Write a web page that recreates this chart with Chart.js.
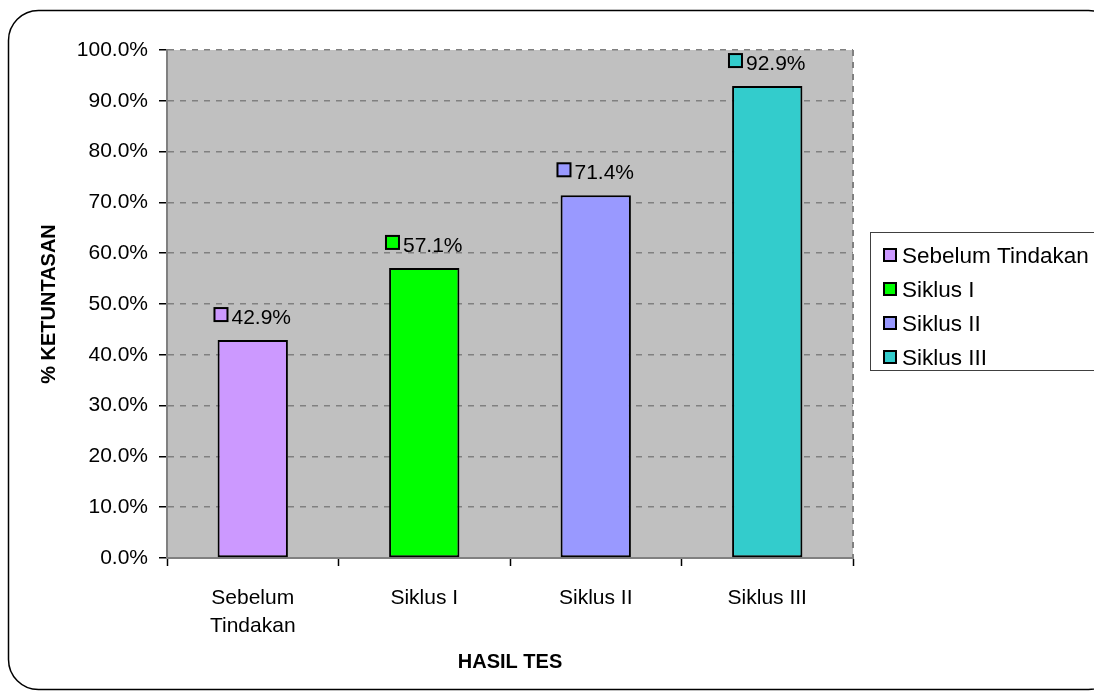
<!DOCTYPE html>
<html>
<head>
<meta charset="utf-8">
<script src="https://cdn.jsdelivr.net/npm/chart.js@4/dist/chart.umd.min.js"></script>
<style>
  html, body { margin: 0; padding: 0; background: #fff; }
  #wrap { width: 1094px; height: 694px; position: relative; }
</style>
</head>
<body>
<div id="wrap"><canvas id="chart" width="1094" height="694"></canvas></div>
<script>
// data
const categories = [['Sebelum', 'Tindakan'], 'Siklus I', 'Siklus II', 'Siklus III'];
const legendNames = ['Sebelum Tindakan', 'Siklus I', 'Siklus II', 'Siklus III'];
const ketuntasan = [42.9, 57.1, 71.4, 92.9];
const barColors = ['#CC99FF', '#00FF00', '#9999FF', '#33CCCC'];

const FONT = "'Liberation Sans', Arial, sans-serif";

// rounded frame, plot background and dashed border
const framePlugin = {
    id: 'frame',
    beforeDraw(chart) {
        const ctx = chart.ctx;
        const a = chart.chartArea;
        ctx.save();
        ctx.fillStyle = '#C0C0C0';
        ctx.fillRect(a.left, a.top, a.right - a.left, a.bottom - a.top);
        ctx.restore();
    },
    afterDraw(chart) {
        const ctx = chart.ctx;
        const a = chart.chartArea;
        ctx.save();
        // outer rounded frame
        ctx.strokeStyle = '#000';
        ctx.lineWidth = 1.5;
        ctx.beginPath();
        ctx.roundRect(8.5, 10.5, 1110, 679, 30);
        ctx.stroke();
        // right plot border dashed
        ctx.strokeStyle = '#808080';
        ctx.lineWidth = 2;
        ctx.setLineDash([6, 6]);
        ctx.beginPath();
        ctx.moveTo(a.right, a.top);
        ctx.lineTo(a.right, a.bottom);
        ctx.stroke();
        ctx.setLineDash([]);

        // data labels: colour square + value
        const meta = chart.getDatasetMeta(0);
        ctx.font = '21px ' + FONT;
        ctx.textBaseline = 'middle';
        ctx.textAlign = 'left';
        meta.data.forEach((bar, i) => {
            const txt = ketuntasan[i].toFixed(1) + '%';
            const tw = ctx.measureText(txt).width;
            const sq = 13, gap = 4;
            const total = sq + gap + tw;
            const x0 = bar.x - total / 2;
            const cy = bar.y - 22;
            ctx.fillStyle = barColors[i];
            ctx.fillRect(x0, cy - 10, sq, sq);
            ctx.strokeStyle = '#000';
            ctx.lineWidth = 2;
            ctx.strokeRect(x0, cy - 10, sq, sq);
            ctx.fillStyle = '#000';
            ctx.fillText(txt, x0 + sq + gap, cy);
        });

        // legend box
        const lx = 870, ly = 232;
        ctx.font = '22.5px ' + FONT;
        ctx.strokeStyle = '#404040';
        ctx.lineWidth = 1;
        ctx.strokeRect(lx + 0.5, ly + 0.5, 240, 138);
        legendNames.forEach((name, i) => {
            const cy = ly + 25 + i * 34;
            ctx.fillStyle = barColors[i];
            ctx.fillRect(lx + 14, cy - 8, 12, 12);
            ctx.strokeStyle = '#000';
            ctx.lineWidth = 2;
            ctx.strokeRect(lx + 14, cy - 8, 12, 12);
            ctx.fillStyle = '#000';
            ctx.fillText(name, lx + 32, cy);
        });
        ctx.restore();
    }
};

new Chart(document.getElementById('chart'), {
    type: 'bar',
    data: {
        labels: categories,
        datasets: [{
            label: 'Ketuntasan',
            data: ketuntasan,
            backgroundColor: barColors,
            borderColor: '#000',
            borderWidth: 2,
            borderSkipped: false,
            categoryPercentage: 1,
            barPercentage: 0.41
        }]
    },
    options: {
        responsive: false,
        animation: false,
        layout: { padding: { left: 0, top: 50, right: 241, bottom: 0 } },
        plugins: {
            legend: { display: false },
            tooltip: { enabled: false }
        },
        scales: {
            x: {
                afterFit(scale) { scale.height = 136; },
                grid: {
                    offset: true,
                    drawOnChartArea: false,
                    tickLength: 8,
                    tickColor: '#000',
                    tickWidth: 1.5
                },
                border: { display: true, color: '#808080', width: 2, dash: [6, 6] },
                ticks: {
                    color: '#000',
                    padding: 18,
                    font: { family: FONT, size: 21, lineHeight: 1.35 },
                    maxRotation: 0
                },
                title: {
                    display: true,
                    text: 'HASIL TES',
                    color: '#000',
                    font: { family: FONT, size: 20, weight: 'bold', lineHeight: 1.2 },
                    padding: { top: 20, bottom: 20 }
                }
            },
            y: {
                min: 0,
                max: 100,
                afterFit(scale) { scale.width = 167; },
                grid: {
                    color: '#808080',
                    lineWidth: 1.5,
                    borderDash: [6, 6],
                    tickLength: 8,
                    tickColor: '#000',
                    tickWidth: 1.5
                },
                border: { display: true, color: '#808080', width: 2, dash: [6, 6] },
                ticks: {
                    stepSize: 10,
                    color: '#000',
                    padding: 11,
                    font: { family: FONT, size: 21 },
                    callback: v => v.toFixed(1) + '%'
                },
                title: {
                    display: true,
                    text: '% KETUNTASAN',
                    color: '#000',
                    font: { family: FONT, size: 20, weight: 'bold', lineHeight: 1.2 },
                    padding: { top: 37, bottom: 0 }
                }
            }
        }
    },
    plugins: [framePlugin]
});
</script>
</body>
</html>
